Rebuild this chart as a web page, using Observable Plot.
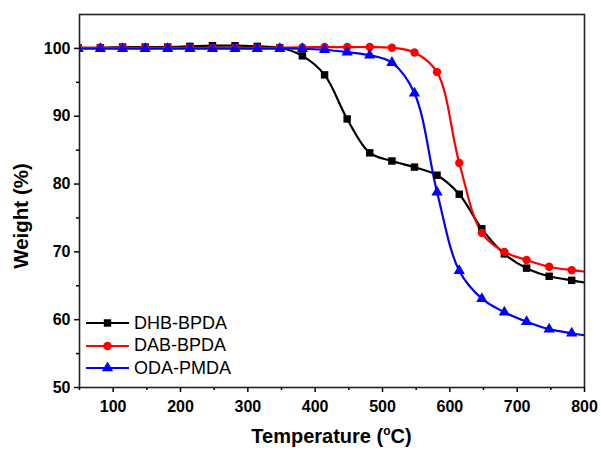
<!DOCTYPE html>
<html>
<head>
<meta charset="utf-8">
<script src="https://cdn.jsdelivr.net/npm/d3@7"></script>
<script src="https://cdn.jsdelivr.net/npm/@observablehq/plot@0.6"></script>
<style>
  html, body { margin: 0; padding: 0; background: #fff; }
  #wrap { position: relative; width: 601px; height: 452px; font-family: Arial, "Liberation Sans", sans-serif; }
  #wrap svg { display: block; }
  .xtitle { position: absolute; left: 79px; width: 505px; top: 425px; text-align: center; font-weight: bold; font-size: 20px; color: #000; }
  .xtitle sup { font-size: 12px; vertical-align: 0; position: relative; top: -8px; }
  .ytitle { position: absolute; left: 21px; top: 216px; transform: translate(-50%, -50%) rotate(-90deg); font-weight: bold; font-size: 20.5px; white-space: nowrap; color: #000; }
  .legend { position: absolute; left: 86px; top: 312px; }
  .legend .row { display: flex; align-items: center; height: 22.5px; font-size: 18px; color: #000; }
  .legend svg { margin-right: 5px; }
</style>
</head>
<body>
<div id="wrap"></div>
<script>
// Temperatures (°C) at the plotted markers, plus the curve end at 800
const temps = [48, 81, 114, 147.5, 181, 214, 247.5, 281, 314, 347.5, 381, 414, 447.5, 481, 514, 547.5, 581, 614, 647.5, 681, 714, 747.5, 781, 800];
const dhbBpda = [100.1, 100.1, 100.2, 100.2, 100.2, 100.3, 100.4, 100.4, 100.3, 100.1, 98.9, 96.1, 89.6, 84.6, 83.4, 82.5, 81.3, 78.5, 73.4, 69.7, 67.6, 66.4, 65.8, 65.5];
const dabBpda = [100.1, 100.1, 100.1, 100.1, 100.1, 100.1, 100.1, 100.1, 100.1, 100.1, 100.15, 100.2, 100.2, 100.2, 100.1, 99.4, 96.5, 83.1, 72.8, 70.0, 68.8, 67.8, 67.3, 67.1];
const odaPmda = [99.95, 99.95, 99.95, 99.95, 99.95, 99.95, 99.95, 99.95, 99.95, 99.95, 99.95, 99.8, 99.45, 99.0, 97.9, 93.4, 78.8, 67.2, 63.1, 61.1, 59.7, 58.6, 58.0, 57.7];
const seriesNames = ["DHB-BPDA", "DAB-BPDA", "ODA-PMDA"];
const seriesColors = ["#000000", "#ff0000", "#0000ff"];
const seriesSymbols = ["square", "circle", "triangle"];
const xTicks = [100, 200, 300, 400, 500, 600, 700, 800];
const xMinorTicks = [50, 150, 250, 350, 450, 550, 650, 750];
const yTicks = [50, 60, 70, 80, 90, 100];
const yMinorTicks = [55, 65, 75, 85, 95];

const seriesValues = [dhbBpda, dabBpda, odaPmda];
const rows = [];
seriesNames.forEach((name, si) => {
  temps.forEach((t, i) => rows.push({series: name, t, w: seriesValues[si][i], marker: i < temps.length - 1}));
});
const markerRows = rows.filter(d => d.marker);

const plot = Plot.plot({
  width: 601,
  height: 452,
  marginLeft: 79,
  marginRight: 17,
  marginTop: 14,
  marginBottom: 65,
  style: {fontFamily: "Arial, 'Liberation Sans', sans-serif", fontSize: "16px", fontWeight: "bold", color: "#000", background: "#fff"},
  x: {domain: [50, 800]},
  y: {domain: [50, 105]},
  color: {domain: seriesNames, range: seriesColors},
  symbol: {domain: seriesNames, range: seriesSymbols},
  marks: [
    Plot.line(rows, {x: "t", y: "w", z: "series", stroke: "series", strokeWidth: 2.2, curve: "catmull-rom", clip: true}),
    Plot.dot(markerRows, {x: "t", y: "w", fill: "series", symbol: "series", r: 4.2, stroke: "none", clip: true}),
    Plot.axisX({ticks: xMinorTicks, tickSize: 3, tickFormat: () => "", strokeWidth: 1.5, label: null}),
    Plot.axisX({ticks: xTicks, tickSize: 5, tickPadding: 8, strokeWidth: 1.5, fontSize: 16, fontWeight: "bold", label: null}),
    Plot.axisY({ticks: yMinorTicks, tickSize: 3, tickFormat: () => "", strokeWidth: 1.5, label: null}),
    Plot.axisY({ticks: yTicks, tickSize: 5, tickPadding: 4, strokeWidth: 1.5, fontSize: 16, fontWeight: "bold", label: null}),
    Plot.frame({stroke: "#222", strokeWidth: 1.6})
  ]
});

const wrap = document.getElementById("wrap");
wrap.appendChild(plot);

const xt = document.createElement("div");
xt.className = "xtitle";
xt.innerHTML = "Temperature (<sup>o</sup>C)";
wrap.appendChild(xt);

const yt = document.createElement("div");
yt.className = "ytitle";
yt.textContent = "Weight (%)";
wrap.appendChild(yt);

const legend = document.createElement("div");
legend.className = "legend";
seriesNames.forEach((name, i) => {
  const row = document.createElement("div");
  row.className = "row";
  const sym = d3.symbol(d3["symbol" + seriesSymbols[i][0].toUpperCase() + seriesSymbols[i].slice(1)], Math.PI * 4.2 * 4.2)();
  row.innerHTML = `<svg width="43" height="12"><line x1="0" x2="43" y1="6" y2="6" stroke="${seriesColors[i]}" stroke-width="2.2"/><path d="${sym}" transform="translate(21.5,6)" fill="${seriesColors[i]}"/></svg><span>${name}</span>`;
  legend.appendChild(row);
});
wrap.appendChild(legend);
</script>
</body>
</html>
